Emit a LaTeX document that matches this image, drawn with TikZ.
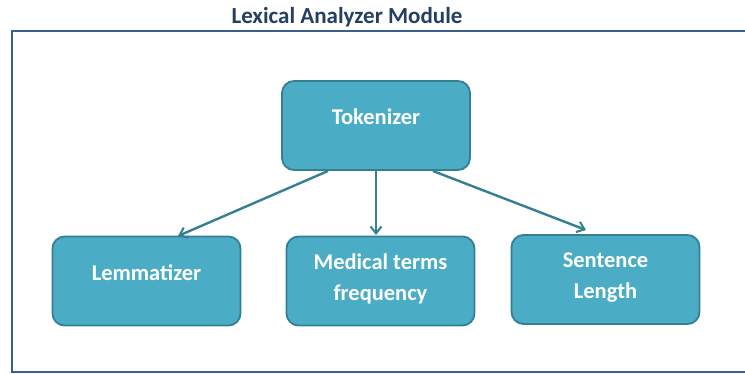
\documentclass[tikz,border=0pt]{standalone}
\usepackage{fontspec}
\setmainfont{Carlito}
\usetikzlibrary{arrows.meta}
\definecolor{frameblue}{HTML}{3C5F8F}
\definecolor{titleblue}{HTML}{243F60}
\definecolor{boxfill}{HTML}{4BACC6}
\definecolor{boxedge}{HTML}{357F93}
\definecolor{arrowc}{HTML}{357F93}
\tikzset{
  procbox/.style={draw=boxedge, fill=boxfill, line width=1.8pt, rounded corners=12pt,
    minimum width=188pt, minimum height=89pt, inner sep=0pt},
  boxtext/.style={text=white, align=center, font=\fontsize{22.5}{31}\selectfont\bfseries, inner sep=0pt},
  conn/.style={draw=arrowc, line width=2.4pt, -{Straight Barb[length=7pt,width=11pt,line width=2pt]}}
}
\begin{document}
\begin{tikzpicture}[x=1pt,y=-1pt]
\useasboundingbox (0,0) rectangle (745,374);
\draw[frameblue, line width=2pt] (760,31) -- (12,31) -- (12,372) -- (760,372);
\node[font=\fontsize{23}{25}\selectfont\bfseries, text=titleblue] (title) at (347,17) {Lexical Analyzer Module};
\node[procbox] (tok) at (376,125.5) {};
\node[boxtext] (toklabel) at (376,117) {Tokenizer};
\node[procbox] (lem) at (146.5,281) {};
\node[boxtext] (lemlabel) at (146.5,272.5) {Lemmatizer};
\node[procbox] (med) at (380.5,281) {};
\node[boxtext] (medlabel) at (380.5,279) {Medical terms\\frequency};
\node[procbox] (sen) at (605.5,279.5) {};
\node[boxtext] (senlabel) at (605.5,278) {Sentence\\Length};
\coordinate (t1) at (328,171);
\coordinate (t2) at (376,171);
\coordinate (t3) at (433,171);
\coordinate (e1) at (178,236);
\coordinate (e2) at (376,235);
\coordinate (e3) at (586,230);
\draw[conn] (t1) -- (e1);
\draw[conn] (t2) -- (e2);
\draw[conn] (t3) -- (e3);
\end{tikzpicture}
\end{document}
